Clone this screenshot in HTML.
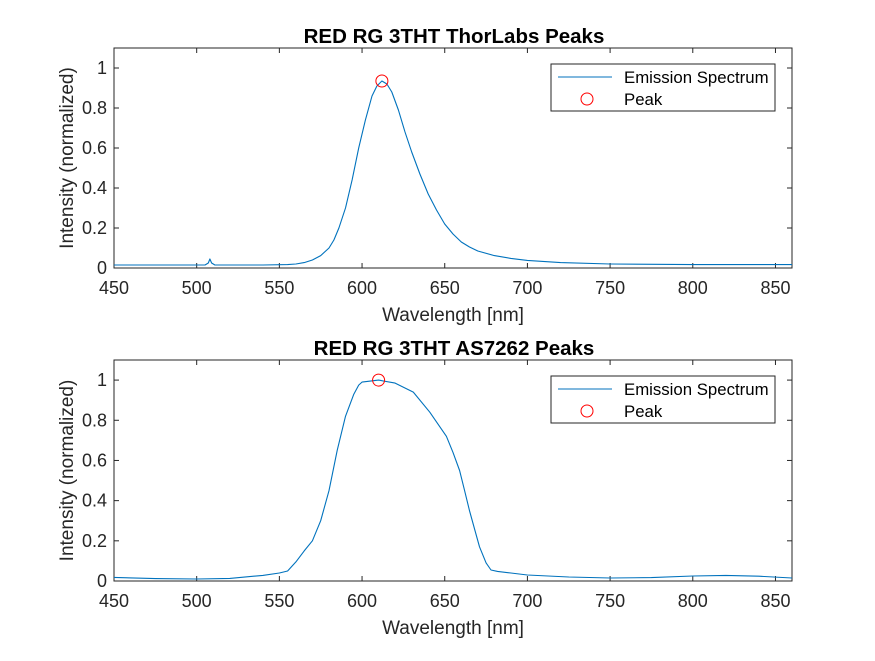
<!DOCTYPE html>
<html><head><meta charset="utf-8"><style>
body{margin:0;background:#fff;}
svg{font-family:"Liberation Sans",Arial,sans-serif;}
</style></head><body>
<svg id="chart" width="875" height="656" viewBox="0 0 875 656"></svg>
<script>
const xTicks=[450,500,550,600,650,700,750,800,850];
const yTicks=[0,0.2,0.4,0.6,0.8,1];
const yTickLabels=['0','0.2','0.4','0.6','0.8','1'];
const topTitle='RED RG 3THT ThorLabs Peaks';
const topX=[450,505,507,508,509,511,540,555,560,565,570,575,580,583,586,590,594,598,602,606,609,612,615,618,622,626,630,635,640,645,650,655,660,665,670,680,690,700,720,750,800,860];
const topY=[0.015,0.015,0.025,0.045,0.025,0.015,0.015,0.017,0.02,0.027,0.04,0.062,0.1,0.14,0.2,0.3,0.44,0.6,0.74,0.86,0.91,0.935,0.92,0.88,0.79,0.68,0.58,0.47,0.37,0.29,0.22,0.17,0.13,0.105,0.085,0.062,0.048,0.038,0.027,0.02,0.017,0.017];
const topPeakX=[612];
const topPeakY=[0.935];
const botTitle='RED RG 3THT AS7262 Peaks';
const botX=[450,475,500,520,540,550,555,560,565,570,575,580,585,590,595,598,600,610,620,631,641,651,655,659,662,665,668,671,675,678,682,690,700,725,750,775,800,820,840,860];
const botY=[0.018,0.012,0.01,0.013,0.028,0.04,0.05,0.095,0.15,0.2,0.3,0.45,0.65,0.82,0.93,0.975,0.99,1.0,0.985,0.94,0.84,0.72,0.64,0.55,0.45,0.35,0.26,0.17,0.09,0.055,0.048,0.04,0.03,0.02,0.015,0.017,0.025,0.028,0.024,0.015];
const botPeakX=[610];
const botPeakY=[1.0];

const NS='http://www.w3.org/2000/svg';
const svg=document.getElementById('chart');
function mk(tag,attrs,parent){const e=document.createElementNS(NS,tag);for(const k in attrs)e.setAttribute(k,attrs[k]);(parent||svg).appendChild(e);return e;}

function panel(prefix,L,T,R,B,title,xs,ys,px,py){
  const g=mk('g',{});
  
  
  const sx=v=>L+(v-450)/(860-450)*(R-L);
  const sy=v=>B-v/1.1*(B-T);
  const bg=mk('rect',{x:L,y:T,width:R-L,height:B-T,fill:'#fff',stroke:'#262626','stroke-width':1},g);
  
  
  xTicks.forEach(v=>{
    const x=sx(v);
    mk('line',{x1:x,y1:B,x2:x,y2:B-5,stroke:'#262626'},g);
    mk('line',{x1:x,y1:T,x2:x,y2:T+5,stroke:'#262626'},g);
    const t=mk('text',{x:x,y:B+26,'text-anchor':'middle','font-size':18,fill:'#262626'},g);
    t.textContent=v;
    
    
  });
  yTicks.forEach((v,i)=>{
    const y=sy(v);
    mk('line',{x1:L,y1:y,x2:L+5,y2:y,stroke:'#262626'},g);
    mk('line',{x1:R,y1:y,x2:R-5,y2:y,stroke:'#262626'},g);
    const t=mk('text',{x:L-7,y:y+6,'text-anchor':'end','font-size':18,fill:'#262626'},g);
    t.textContent=yTickLabels[i];
    
    
  });
  const d=xs.map((v,i)=>(i?'L':'M')+sx(v).toFixed(1)+','+sy(ys[i]).toFixed(1)).join(' ');
  const line=mk('path',{d:d,fill:'none',stroke:'#0072BD','stroke-width':1.1,'stroke-linejoin':'round'},g);
  
  
  px.forEach((v,i)=>{
    const c=mk('circle',{cx:sx(v),cy:sy(py[i]),r:6,fill:'none',stroke:'#FF0000','stroke-width':1},g);
    
    
  });
  const tt=mk('text',{x:(L+R)/2+1,y:T-5,'text-anchor':'middle','font-size':20.5,'font-weight':'bold',fill:'#000'},g);
  tt.textContent=title;
  
  
  const xl=mk('text',{x:(L+R)/2,y:B+53,'text-anchor':'middle','font-size':19,fill:'#262626'},g);
  xl.textContent='Wavelength [nm]';
  
  
  const cy=(T+B)/2;
  const yl=mk('text',{x:73,y:cy,'text-anchor':'middle','font-size':19,fill:'#262626',transform:'rotate(-90 73 '+cy+')'},g);
  yl.textContent='Intensity (normalized)';
  
  
  const lg=mk('g',{},g);
  
  
  mk('rect',{x:551,y:T+16,width:224,height:47,fill:'#fff',stroke:'#262626','stroke-width':1},lg);
  mk('line',{x1:558,y1:T+29,x2:612,y2:T+29,stroke:'#0072BD','stroke-width':1.1},lg);
  const l1=mk('text',{x:624,y:T+35,'font-size':16.8,fill:'#000'},lg);
  l1.textContent='Emission Spectrum';
  
  
  mk('circle',{cx:587,cy:T+51,r:6,fill:'none',stroke:'#FF0000'},lg);
  const l2=mk('text',{x:624,y:T+57,'font-size':16.8,fill:'#000'},lg);
  l2.textContent='Peak';
  
  
}
panel('top',114,48,792,268,topTitle,topX,topY,topPeakX,topPeakY);
panel('bottom',114,360,792,581,botTitle,botX,botY,botPeakX,botPeakY);
</script>
</body></html>
